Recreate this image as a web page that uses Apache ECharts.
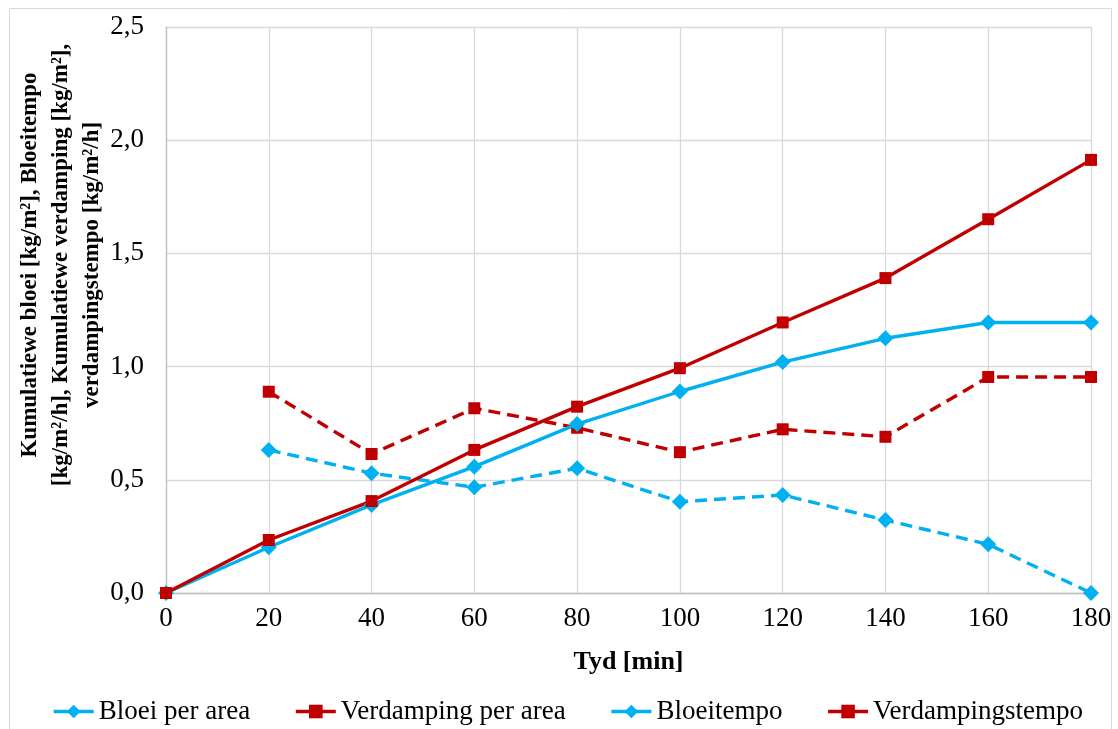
<!DOCTYPE html>
<html>
<head>
<meta charset="utf-8">
<script src="https://cdn.jsdelivr.net/npm/echarts@6/dist/echarts.min.js"></script>
<style>
  html, body { margin: 0; padding: 0; background: #fff; }
  #chart { width: 1118px; height: 729px; }
</style>
</head>
<body>
<div id="chart"></div>
<script>
// Time in minutes
const tyd = [0, 20, 40, 60, 80, 100, 120, 140, 160, 180];

// Cumulative values [kg/m²]
const bloeiPerArea = [0, 0.202, 0.389, 0.558, 0.746, 0.890, 1.020, 1.125, 1.195, 1.195];
const verdampingPerArea = [0, 0.234, 0.406, 0.632, 0.823, 0.993, 1.195, 1.391, 1.651, 1.913];

// Rates [kg/m²/h], first value at 20 min
const bloeitempo = [null, 0.632, 0.529, 0.467, 0.551, 0.403, 0.433, 0.322, 0.215, 0.0];
const verdampingstempo = [null, 0.889, 0.614, 0.816, 0.730, 0.622, 0.723, 0.690, 0.954, 0.954];

const seriesNames = ['Bloei per area', 'Verdamping per area', 'Bloeitempo', 'Verdampingstempo'];

const BLUE = '#00B0F0';
const RED = '#C00000';
const FONT = '"Liberation Serif", "Times New Roman", serif';

function pairs(values) {
  const out = [];
  tyd.forEach((t, i) => { if (values[i] !== null) out.push([t, values[i]]); });
  return out;
}

function lineSeries(name, values, color, symbol, size, dashed) {
  return {
    name: name,
    type: 'line',
    data: pairs(values),
    symbol: symbol,
    symbolSize: size,
    showSymbol: true,
    itemStyle: { color: color },
    lineStyle: { color: color, width: 3.4, type: dashed ? [12, 7] : 'solid' },
    emphasis: { disabled: true },
    z: dashed ? 2 : 3
  };
}

const chart = echarts.init(document.getElementById('chart'), null, { renderer: 'canvas' });

chart.setOption({
  animation: false,
  backgroundColor: '#ffffff',
  textStyle: { fontFamily: FONT },
  graphic: [{
    type: 'rect',
    shape: { x: 9.5, y: 8.5, width: 1102, height: 740 },
    style: { fill: 'none', stroke: '#D9D9D9', lineWidth: 1 },
    silent: true,
    z: -10
  }],
  grid: { left: 166, right: 27, top: 27, bottom: 136, containLabel: false },
  legend: {
    left: 52,
    top: 698,
    padding: 0,
    itemWidth: 40,
    itemHeight: 17,
    itemGap: 44,
    textStyle: { fontFamily: FONT, fontSize: 27, color: '#000' },
    data: seriesNames.map(n => ({ name: n, lineStyle: { type: 'solid', width: 3.4 } }))
  },
  xAxis: {
    type: 'value',
    min: 0,
    max: 180,
    interval: 20,
    name: 'Tyd [min]',
    nameLocation: 'middle',
    nameGap: 56,
    nameTextStyle: { fontFamily: FONT, fontSize: 26, fontWeight: 'bold', color: '#000' },
    axisLine: { show: true, onZero: false, lineStyle: { color: '#BFBFBF', width: 1.3 } },
    axisTick: { show: false },
    axisLabel: { margin: 12, fontFamily: FONT, fontSize: 27, color: '#000' },
    splitLine: { show: true, lineStyle: { color: '#D9D9D9', width: 1.3 } }
  },
  yAxis: {
    type: 'value',
    min: 0,
    max: 2.5,
    interval: 0.5,
    name: 'Kumulatiewe bloei [kg/m²], Bloeitempo\n[kg/m²/h], Kumulatiewe verdamping [kg/m²],\nverdampingstempo [kg/m²/h]',
    nameLocation: 'middle',
    nameRotate: 90,
    nameGap: 58,
    nameMoveOverlap: false,
    nameTextStyle: {
      fontFamily: FONT, fontSize: 23, fontWeight: 'bold', color: '#000',
      lineHeight: 31, align: 'center', padding: [0, 0, 0, 90]
    },
    axisLine: { show: true, lineStyle: { color: '#BFBFBF', width: 1.3 } },
    axisTick: { show: false },
    axisLabel: {
      margin: 22, fontFamily: FONT, fontSize: 27, color: '#000',
      formatter: v => v.toFixed(1).replace('.', ',')
    },
    splitLine: { show: true, lineStyle: { color: '#D9D9D9', width: 1.3 } }
  },
  series: [
    lineSeries(seriesNames[0], bloeiPerArea, BLUE, 'diamond', 16, false),
    lineSeries(seriesNames[1], verdampingPerArea, RED, 'rect', 12, false),
    lineSeries(seriesNames[2], bloeitempo, BLUE, 'diamond', 16, true),
    lineSeries(seriesNames[3], verdampingstempo, RED, 'rect', 12, true)
  ]
});
</script>
</body>
</html>
